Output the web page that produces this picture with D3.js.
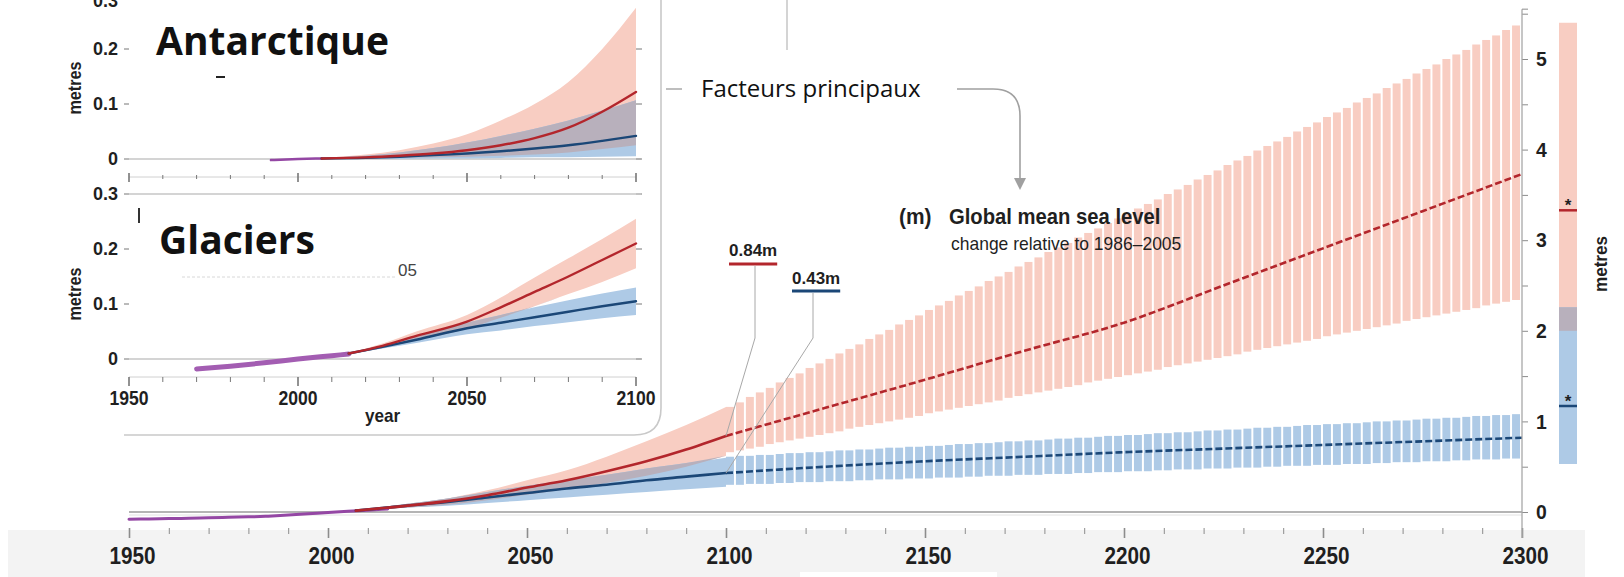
<!DOCTYPE html>
<html>
<head>
<meta charset="utf-8">
<script src="https://cdn.jsdelivr.net/npm/d3@7"></script>
<style>
  html, body { margin: 0; padding: 0; background: #fff; }
  svg { display: block; }
  .num { font-family: "Liberation Sans", Arial, sans-serif; font-weight: bold; fill: #1f1f1f; }
  .lite { font-family: "Liberation Sans", Arial, sans-serif; font-weight: normal; fill: #1f1f1f; }
  .cal { font-family: "Open Sans", "Noto Sans", sans-serif; fill: #111; }
</style>
</head>
<body>
<svg id="chart" width="1624" height="577"></svg>
<script>
// ---------------- global mean sea level (metres, relative to 1986–2005) ----------------
const histYears = [1950, 1955, 1960, 1965, 1970, 1975, 1980, 1983, 1985, 1990, 1995, 2000, 2005, 2010, 2015];
const histGmsl  = [-0.080, -0.077, -0.073, -0.069, -0.064, -0.059, -0.053, -0.050, -0.046, -0.034, -0.020, -0.005, 0.008, 0.020, 0.033];

const projYears = [2007, 2020, 2030, 2040, 2050, 2060, 2070, 2080, 2090, 2100];
const rcp85Mid  = [0.015, 0.07, 0.12, 0.185, 0.27, 0.35, 0.45, 0.56, 0.69, 0.84];
const rcp85Low  = [0.01, 0.05, 0.08, 0.13, 0.19, 0.25, 0.32, 0.40, 0.50, 0.62];
const rcp85High = [0.02, 0.09, 0.15, 0.24, 0.35, 0.46, 0.61, 0.78, 0.96, 1.16];
const rcp26Mid  = [0.015, 0.07, 0.11, 0.16, 0.21, 0.26, 0.30, 0.35, 0.39, 0.43];
const rcp26Low  = [0.01, 0.05, 0.07, 0.10, 0.13, 0.16, 0.19, 0.22, 0.25, 0.28];
const rcp26High = [0.02, 0.09, 0.15, 0.22, 0.29, 0.35, 0.41, 0.48, 0.54, 0.60];

// long-term medians 2100–2300
const longYears     = [2100, 2125, 2150, 2175, 2200, 2225, 2250, 2275, 2300];
const rcp85LongMid  = [0.84, 1.15, 1.46, 1.78, 2.09, 2.50, 2.91, 3.32, 3.73];
const rcp26LongMid  = [0.43, 0.50, 0.56, 0.61, 0.66, 0.70, 0.74, 0.78, 0.82];

// long-term ranges, one value per 2.5-year stripe from 2100
const stripeStep = 2.5;
const stripeYears = d3.range(2100, 2300, stripeStep);
const stripe85High = [1.16,1.21,1.27,1.32,1.37,1.43,1.48,1.53,1.59,1.64,1.69,1.75,1.80,1.85,1.91,1.96,2.01,2.07,2.12,2.17,
  2.23,2.28,2.33,2.39,2.44,2.49,2.55,2.60,2.65,2.71,2.76,2.81,2.87,2.92,2.97,3.03,3.08,3.13,3.19,3.24,
  3.29,3.35,3.40,3.45,3.51,3.56,3.61,3.67,3.72,3.77,3.83,3.88,3.93,3.99,4.04,4.09,4.14,4.20,4.25,4.30,
  4.36,4.41,4.46,4.52,4.57,4.62,4.68,4.73,4.78,4.84,4.89,4.94,5.00,5.05,5.10,5.16,5.21,5.26,5.32,5.37];
const stripe85Low = [0.66,0.68,0.70,0.72,0.75,0.77,0.79,0.81,0.83,0.85,0.87,0.89,0.92,0.94,0.96,0.98,1.00,1.02,1.04,1.06,
  1.09,1.11,1.13,1.15,1.17,1.19,1.21,1.23,1.26,1.28,1.30,1.32,1.34,1.36,1.38,1.40,1.43,1.45,1.47,1.49,
  1.51,1.53,1.55,1.57,1.60,1.62,1.64,1.66,1.68,1.70,1.72,1.74,1.77,1.79,1.81,1.83,1.85,1.87,1.89,1.91,
  1.94,1.96,1.98,2.00,2.02,2.04,2.06,2.08,2.11,2.13,2.15,2.17,2.19,2.21,2.23,2.25,2.28,2.30,2.32,2.34];
const stripe26High = [0.61,0.62,0.62,0.63,0.63,0.64,0.65,0.65,0.66,0.66,0.67,0.68,0.68,0.69,0.69,0.70,0.71,0.71,0.72,0.72,
  0.73,0.73,0.74,0.75,0.75,0.76,0.76,0.77,0.78,0.78,0.79,0.79,0.80,0.81,0.81,0.82,0.82,0.83,0.84,0.84,
  0.85,0.85,0.86,0.87,0.87,0.88,0.88,0.89,0.90,0.90,0.91,0.91,0.92,0.93,0.93,0.94,0.94,0.95,0.96,0.96,
  0.97,0.97,0.98,0.98,0.99,1.00,1.00,1.01,1.01,1.02,1.03,1.03,1.04,1.04,1.05,1.06,1.06,1.07,1.07,1.08];
const stripe26Low = [0.30,0.30,0.31,0.31,0.31,0.32,0.32,0.33,0.33,0.33,0.34,0.34,0.34,0.35,0.35,0.36,0.36,0.36,0.37,0.37,
  0.37,0.38,0.38,0.38,0.39,0.39,0.40,0.40,0.40,0.41,0.41,0.41,0.42,0.42,0.42,0.43,0.43,0.44,0.44,0.44,
  0.45,0.45,0.45,0.46,0.46,0.47,0.47,0.47,0.48,0.48,0.48,0.49,0.49,0.49,0.50,0.50,0.51,0.51,0.51,0.52,
  0.52,0.52,0.53,0.53,0.53,0.54,0.54,0.55,0.55,0.55,0.56,0.56,0.56,0.57,0.57,0.58,0.58,0.58,0.59,0.59];

// 2300 range bars
const barLow  = [2.00, 0.53];
const barHigh = [5.40, 2.26];
const barMid  = [3.33, 1.17];

// ---------------- inset: Antarctic contribution ----------------
const antHistYears = [1992, 2000, 2007];
const antHist      = [-0.002, 0.000, 0.001];
const antYears   = [2007, 2020, 2030, 2040, 2050, 2060, 2070, 2080, 2090, 2100];
const ant85Mid   = [0.001, 0.003, 0.006, 0.010, 0.016, 0.025, 0.038, 0.057, 0.086, 0.122];
const ant85Low   = [0.000, 0.001, 0.002, 0.003, 0.004, 0.006, 0.008, 0.012, 0.018, 0.025];
const ant85High  = [0.002, 0.008, 0.016, 0.028, 0.045, 0.070, 0.100, 0.140, 0.200, 0.275];
const ant26Mid   = [0.001, 0.002, 0.004, 0.007, 0.010, 0.014, 0.019, 0.025, 0.033, 0.042];
const ant26Low   = [0.000, 0.000, 0.000, 0.001, 0.001, 0.002, 0.003, 0.003, 0.004, 0.005];
const ant26High  = [0.002, 0.006, 0.012, 0.020, 0.030, 0.042, 0.055, 0.070, 0.088, 0.107];

// ---------------- inset: glaciers contribution ----------------
const glaHistYears = [1970, 1980, 1990, 2000, 2010, 2015];
const glaHist      = [-0.018, -0.013, -0.007, 0.000, 0.006, 0.009];
const glaYears   = [2015, 2025, 2035, 2050, 2060, 2070, 2080, 2090, 2100];
const gla85Mid   = [0.010, 0.024, 0.042, 0.068, 0.094, 0.122, 0.150, 0.180, 0.210];
const gla85Low   = [0.009, 0.020, 0.034, 0.055, 0.075, 0.096, 0.118, 0.140, 0.165];
const gla85High  = [0.011, 0.028, 0.050, 0.080, 0.112, 0.148, 0.183, 0.218, 0.255];
const gla26Mid   = [0.010, 0.022, 0.035, 0.056, 0.066, 0.076, 0.086, 0.096, 0.105];
const gla26Low   = [0.009, 0.019, 0.029, 0.045, 0.052, 0.060, 0.067, 0.074, 0.080];
const gla26High  = [0.011, 0.025, 0.041, 0.066, 0.080, 0.094, 0.107, 0.119, 0.130];

const insetXTicks = [1950, 2000, 2050, 2100];
const mainXTicks  = [1950, 2000, 2050, 2100, 2150, 2200, 2250, 2300];

// ---------------- styling ----------------
const COL = {
  red: '#b3262c', blue: '#1b4777', purple: '#9447a4',
  redBand: '#f8cdc2', blueBand: '#aecae6', overlap: '#b8b0bc',
  axis: '#8c8c8c'
};

const svg = d3.select('#chart');

// squeeze a text horizontally to get the narrow figure style
function narrow(sel, factor) {
  sel.each(function () {
    const w = this.getComputedTextLength();
    if (w > 0) {
      this.setAttribute('textLength', (w * factor).toFixed(1));
      this.setAttribute('lengthAdjust', 'spacingAndGlyphs');
    }
  });
  return sel;
}

// light strip behind the year labels
svg.append('rect').attr('x', 8).attr('y', 530).attr('width', 1577).attr('height', 47).attr('fill', '#f3f3f3');
svg.append('rect').attr('x', 800).attr('y', 572).attr('width', 197).attr('height', 5).attr('fill', '#fff');

// ---------------- main panel ----------------
const x = d3.scaleLinear().domain([1950, 2300]).range([129, 1522]);
const y = d3.scaleLinear().domain([0, 5]).range([512, 59]);

const zip = (xs, ...cols) => xs.map((v, i) => ({ year: v, v: cols.map(c => c[i]) }));

function band(g, data, xs, ys, fill) {
  g.append('path').datum(data)
    .attr('d', d3.area().curve(d3.curveMonotoneX)
      .x(d => xs(d.year)).y0(d => ys(d.v[0])).y1(d => ys(d.v[1])))
    .attr('fill', fill);
}
function overlapBand(g, data, xs, ys) {
  // intersection of the two ranges: v = [low85, high85, low26, high26]
  g.append('path').datum(data)
    .attr('d', d3.area().curve(d3.curveMonotoneX)
      .x(d => xs(d.year))
      .y0(d => ys(Math.max(d.v[0], d.v[2])))
      .y1(d => ys(Math.max(Math.max(d.v[0], d.v[2]), Math.min(d.v[1], d.v[3])))))
    .attr('fill', COL.overlap);
}
function line(g, xsArr, vals, xs, ys, color, width, dash) {
  const p = g.append('path').datum(xsArr.map((v, i) => [v, vals[i]]))
    .attr('d', d3.line().curve(d3.curveMonotoneX).x(d => xs(d[0])).y(d => ys(d[1])))
    .attr('fill', 'none').attr('stroke', color).attr('stroke-width', width)
    .attr('stroke-linecap', dash ? 'butt' : 'round');
  if (dash) p.attr('stroke-dasharray', dash);
  return p;
}

const gMain = svg.append('g');

// zero line
gMain.append('line').attr('x1', x(1950)).attr('x2', x(2300)).attr('y1', y(0)).attr('y2', y(0))
  .attr('stroke', '#b4b4b4').attr('stroke-width', 2);
gMain.append('line').attr('x1', x(1950)).attr('x2', x(2300)).attr('y1', y(0) + 3).attr('y2', y(0) + 3)
  .attr('stroke', '#e2e2e2').attr('stroke-width', 1);

// 21st-century ranges
band(gMain, zip(projYears, rcp85Low, rcp85High), x, y, COL.redBand);
band(gMain, zip(projYears, rcp26Low, rcp26High), x, y, COL.blueBand);
overlapBand(gMain, zip(projYears, rcp85Low, rcp85High, rcp26Low, rcp26High), x, y);

// long-term ranges drawn as stripes
const stripeW = x(2100 + stripeStep) - x(2100) - 2;
gMain.selectAll('rect.s85').data(stripeYears).join('rect').attr('class', 's85')
  .attr('x', d => x(d)).attr('width', stripeW)
  .attr('y', (d, i) => y(stripe85High[i])).attr('height', (d, i) => y(stripe85Low[i]) - y(stripe85High[i]))
  .attr('fill', COL.redBand);
gMain.selectAll('rect.s26').data(stripeYears).join('rect').attr('class', 's26')
  .attr('x', d => x(d)).attr('width', stripeW)
  .attr('y', (d, i) => y(stripe26High[i])).attr('height', (d, i) => y(stripe26Low[i]) - y(stripe26High[i]))
  .attr('fill', COL.blueBand);

// medians
line(gMain, histYears, histGmsl, x, y, COL.purple, 3);
line(gMain, projYears, rcp26Mid, x, y, COL.blue, 2.6);
line(gMain, projYears, rcp85Mid, x, y, COL.red, 2.6);
line(gMain, longYears, rcp26LongMid, x, y, COL.blue, 2.6, '7,3');
line(gMain, longYears, rcp85LongMid, x, y, COL.red, 2.6, '7,3');

// bottom year axis
const xAxis = d3.axisBottom(x).tickValues(d3.range(1950, 2301, 10)).tickSizeOuter(0)
  .tickFormat(d => mainXTicks.includes(d) ? d : '');
const gx = svg.append('g').attr('transform', 'translate(0,528)').call(xAxis);
gx.select('.domain').remove();
gx.selectAll('.tick line').attr('y2', d => d % 50 === 0 ? 10 : 6)
  .attr('stroke', COL.axis).attr('stroke-width', d => d % 50 === 0 ? 1.6 : 1);
const xLabels = gx.selectAll('.tick text').attr('class', 'num').attr('x', 3).attr('y', 28).attr('dy', '0.36em')
  .attr('font-size', 23).attr('font-family', null);
narrow(xLabels, 0.9);

// right metre axis
const yAx = d3.scaleLinear().domain([0, 5.55]).range([y(0), y(5.55)]);
const gy = svg.append('g').attr('transform', `translate(${x(2300)},0)`)
  .call(d3.axisRight(yAx).tickValues(d3.range(0, 5.6, 0.5)).tickSize(6)
    .tickFormat(d => Number.isInteger(d) ? d : ''));
gy.select('.domain').remove();
gy.selectAll('.tick line').attr('stroke', COL.axis);
narrow(gy.selectAll('.tick text').attr('class', 'num').attr('x', 14).attr('font-size', 21).attr('font-family', null), 0.92);
svg.append('line').attr('x1', x(2300)).attr('x2', x(2300)).attr('y1', yAx(5.55)).attr('y2', 538)
  .attr('stroke', '#a8a8a8').attr('stroke-width', 1.3);
svg.append('line').attr('x1', x(2300)).attr('x2', x(2300) + 6).attr('y1', yAx(5.55)).attr('y2', yAx(5.55))
  .attr('stroke', COL.axis);

// 2300 range bars
const barX = 1559, barW = 18;
const gBar = svg.append('g');
gBar.append('rect').attr('x', barX).attr('width', barW)
  .attr('y', y(barHigh[0])).attr('height', y(barLow[0]) - y(barHigh[0])).attr('fill', COL.redBand);
gBar.append('rect').attr('x', barX).attr('width', barW)
  .attr('y', y(barHigh[1])).attr('height', y(barLow[1]) - y(barHigh[1])).attr('fill', COL.blueBand);
gBar.append('rect').attr('x', barX).attr('width', barW)
  .attr('y', y(Math.min(barHigh[0], barHigh[1]))).attr('height', y(Math.max(barLow[0], barLow[1])) - y(Math.min(barHigh[0], barHigh[1])))
  .attr('fill', COL.overlap);
[COL.red, COL.blue].forEach((c, i) => {
  gBar.append('line').attr('x1', barX).attr('x2', barX + barW).attr('y1', y(barMid[i])).attr('y2', y(barMid[i]))
    .attr('stroke', c).attr('stroke-width', 2.5);
  gBar.append('text').attr('x', barX + barW / 2).attr('y', y(barMid[i]) + 1).attr('text-anchor', 'middle')
    .attr('class', 'num').attr('font-size', 17).text('*');
});
narrow(svg.append('text').attr('class', 'num').attr('font-size', 19).attr('text-anchor', 'middle')
  .attr('transform', 'translate(1607,264) rotate(-90)').text('metres'), 0.9);

// 2100 value call-outs
const callouts = [
  { text: '0.84m', val: rcp85Mid[rcp85Mid.length - 1], color: COL.red, tx: 729, ty: 256, ux: 755, uy: 264 },
  { text: '0.43m', val: rcp26Mid[rcp26Mid.length - 1], color: COL.blue, tx: 792, ty: 284, ux: 813, uy: 291 }
];
callouts.forEach(c => {
  svg.append('path')
    .attr('d', `M${c.ux},${c.uy + 2} V338 L${x(2100)},${y(c.val)}`)
    .attr('fill', 'none').attr('stroke', '#a8a8a8').attr('stroke-width', 1);
  const t = svg.append('text').attr('class', 'num').attr('font-size', 17)
    .attr('x', c.tx).attr('y', c.ty).text(c.text);
  const w = t.node().getComputedTextLength();
  svg.append('line').attr('x1', c.tx).attr('x2', c.tx + w).attr('y1', c.uy).attr('y2', c.uy)
    .attr('stroke', c.color).attr('stroke-width', 3);
});

// title block
narrow(svg.append('text').attr('class', 'num').attr('font-size', 22).attr('x', 899).attr('y', 224).text('(m)'), 0.95);
narrow(svg.append('text').attr('class', 'num').attr('font-size', 22).attr('x', 949).attr('y', 224).text('Global mean sea level'), 0.92);
narrow(svg.append('text').attr('class', 'lite').attr('font-size', 19)
  .attr('x', 951).attr('y', 250).text('change relative to 1986–2005'), 0.92);

// drivers annotation with arrow
svg.append('line').attr('x1', 787).attr('x2', 787).attr('y1', 0).attr('y2', 50).attr('stroke', '#bdbdbd').attr('stroke-width', 1.3);
svg.append('line').attr('x1', 666).attr('x2', 682).attr('y1', 89).attr('y2', 89).attr('stroke', '#a8a8a8').attr('stroke-width', 1.5);
svg.append('text').attr('class', 'cal').attr('font-size', 24).attr('x', 701).attr('y', 97).text('Facteurs principaux');
svg.append('path').attr('d', 'M957,89 H993 Q1020,89 1020,116 V180')
  .attr('fill', 'none').attr('stroke', '#a0a0a0').attr('stroke-width', 1.6);
svg.append('path').attr('d', 'M1014,178 L1026,178 L1020,190 Z').attr('fill', '#a0a0a0');

// ---------------- inset panels ----------------
const xi = d3.scaleLinear().domain([1950, 2100]).range([129, 636]);
const yAnt = d3.scaleLinear().domain([0, 0.3]).range([159, -6]);
const yGla = d3.scaleLinear().domain([0, 0.3]).range([359, 194]);

const gIn = svg.append('g');
// frame
gIn.append('path').attr('d', 'M661,0 V408 Q661,435 634,435 H124')
  .attr('fill', 'none').attr('stroke', '#c9c9c9').attr('stroke-width', 1.6);

function panel(ys, ticksY, opts) {
  const g = gIn.append('g');
  ticksY.forEach(v => {
    g.append('line').attr('x1', 124).attr('x2', 129).attr('y1', ys(v)).attr('y2', ys(v)).attr('stroke', '#777');
    g.append('line').attr('x1', 636).attr('x2', 642).attr('y1', ys(v)).attr('y2', ys(v)).attr('stroke', '#777');
    g.append('text').attr('class', 'num').attr('font-size', 18).attr('text-anchor', 'end')
      .attr('x', 118).attr('y', Math.max(ys(v), 1)).attr('dy', '0.36em').text(v === 0 ? '0' : v.toFixed(1));
  });
  g.append('line').attr('x1', 129).attr('x2', 641).attr('y1', ys(0)).attr('y2', ys(0))
    .attr('stroke', '#a9a9a9').attr('stroke-width', 1.2);
  narrow(g.append('text').attr('class', 'num').attr('font-size', 18).attr('text-anchor', 'middle')
    .attr('transform', `translate(${opts.labelX},${opts.labelY}) rotate(-90)`).text('metres'), 0.9);
  return g;
}

// Antarctic panel
const gA = panel(yAnt, [0, 0.1, 0.2, 0.3], { labelX: 81, labelY: 88 });
band(gA, zip(antYears, ant85Low, ant85High), xi, yAnt, COL.redBand);
band(gA, zip(antYears, ant26Low, ant26High), xi, yAnt, COL.blueBand);
overlapBand(gA, zip(antYears, ant85Low, ant85High, ant26Low, ant26High), xi, yAnt);
line(gA, antHistYears, antHist, xi, yAnt, COL.purple, 2.5);
line(gA, antYears, ant26Mid, xi, yAnt, COL.blue, 2.4);
line(gA, antYears, ant85Mid, xi, yAnt, COL.red, 2.4);

// year tick rows
const tickRow = (gy0, major, minor) => {
  const g = gIn.append('g');
  g.append('line').attr('x1', 129).attr('x2', 636).attr('y1', gy0).attr('y2', gy0).attr('stroke', '#d0d0d0');
  d3.range(1950, 2101, 10).forEach(yr => {
    const isMaj = insetXTicks.includes(yr);
    g.append('line').attr('x1', xi(yr)).attr('x2', xi(yr))
      .attr('y1', isMaj ? gy0 - major[0] : gy0 - minor[0]).attr('y2', isMaj ? gy0 + major[1] : gy0 + minor[1])
      .attr('stroke', '#777').attr('stroke-width', isMaj ? 1.6 : 1);
  });
};
tickRow(177, [4, 5], [2, 2]);

// Glaciers panel
const gG = panel(yGla, [0, 0.1, 0.2, 0.3], { labelX: 81, labelY: 294 });
gG.append('line').attr('x1', 129).attr('x2', 641).attr('y1', yGla(0.3)).attr('y2', yGla(0.3))
  .attr('stroke', '#c6c6c6').attr('stroke-width', 1.4);
band(gG, zip(glaYears, gla85Low, gla85High), xi, yGla, COL.redBand);
band(gG, zip(glaYears, gla26Low, gla26High), xi, yGla, COL.blueBand);
overlapBand(gG, zip(glaYears, gla85Low, gla85High, gla26Low, gla26High), xi, yGla);
line(gG, glaHistYears, glaHist, xi, yGla, '#a35db2', 5);
line(gG, glaYears, gla26Mid, xi, yGla, COL.blue, 2.4);
line(gG, glaYears, gla85Mid, xi, yGla, COL.red, 2.4);

tickRow(377, [0, 9], [0, 5]);
insetXTicks.forEach(yr => {
  narrow(gIn.append('text').attr('class', 'num').attr('font-size', 20).attr('text-anchor', 'middle')
    .attr('x', xi(yr)).attr('y', 398).attr('dy', '0.36em').text(yr), 0.88);
});
narrow(gIn.append('text').attr('class', 'num').attr('font-size', 19).attr('text-anchor', 'middle')
  .attr('x', xi(2025)).attr('y', 422).text('year'), 0.9);

// leftover fragments of the panel captions
gIn.append('rect').attr('x', 216).attr('y', 76).attr('width', 9).attr('height', 2).attr('fill', '#222');
gIn.append('text').attr('class', 'lite').attr('font-size', 17).style('fill', '#444')
  .attr('x', 398).attr('y', 276).text('05');
gIn.append('line').attr('x1', 182).attr('x2', 396).attr('y1', 277).attr('y2', 277)
  .attr('stroke', '#d8d8d8').attr('stroke-dasharray', '3,2');
gIn.append('rect').attr('x', 138).attr('y', 208).attr('width', 2).attr('height', 15).attr('fill', '#333');

// panel captions
gIn.append('text').attr('class', 'cal').attr('font-weight', 700).attr('font-size', 39)
  .attr('x', 156).attr('y', 55).text('Antarctique');
gIn.append('text').attr('class', 'cal').attr('font-weight', 700).attr('font-size', 39)
  .attr('x', 159).attr('y', 254).text('Glaciers');
</script>
</body>
</html>
